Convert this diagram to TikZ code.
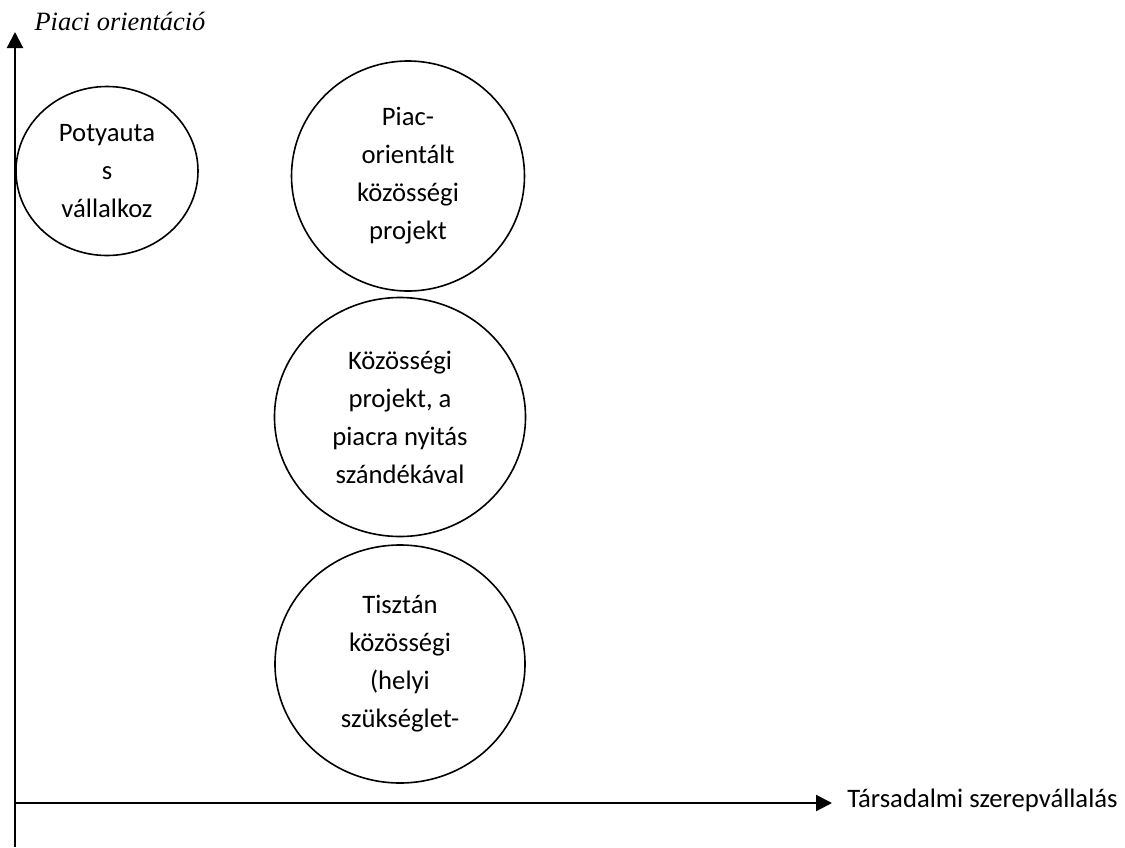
\documentclass[tikz,border=0pt]{standalone}
\usepackage{fontspec}
\setmainfont{Carlito}
\newfontfamily\axisfont{Liberation Serif}
\usepackage{tikz}
\usetikzlibrary{arrows.meta,shapes.geometric,positioning}

\begin{document}
\begin{tikzpicture}[x=0.75pt,y=-0.75pt,
                    blob/.style={draw,ellipse,line width=1.2pt,inner sep=0pt,align=center,
                                 font=\fontsize{20}{28.5}\selectfont},
                    axis/.style={line width=1.6pt,-{Triangle[length=12pt,width=12pt]}}]
                    \useasboundingbox (0,0) rectangle (1125,847);
                    \coordinate (origin) at (15,803);
                    \coordinate (ybot) at (15,847);
                    \coordinate (ytop) at (15,32);
                    \coordinate (xend) at (832,803);
                    \draw[axis] (ybot) -- (ytop);
                    \draw[axis] (origin) -- (xend);
                    \node[anchor=base,inner sep=0pt,font=\axisfont\itshape\fontsize{19.8}{22}\selectfont] (ylabel) at (120,30) {Piaci orientáció};
                    \node[anchor=base west,inner sep=0pt,font=\fontsize{20}{22}\selectfont] (xlabel) at (847,807) {Társadalmi szerepvállalás};
                    \node[blob,minimum width=136.5pt,minimum height=126.75pt] (potya) at (107,171)
                            {Potyauta\\s\\vállalkoz};
                    \node[blob,minimum width=174.75pt,minimum height=172.5pt] (piacor) at (408,176)
                            {Piac-\\orientált\\közösségi\\projekt};
                    \node[blob,minimum width=188.25pt,minimum height=179.25pt] (nyitas) at (400,417)
                            {Közösségi\\projekt, a\\piacra nyitás\\szándékával};
                    \node[blob,minimum width=187.5pt,minimum height=178.5pt] (tiszta) at (400,664)
                            {Tisztán\\közösségi\\(helyi\\szükséglet-};
\end{tikzpicture}
\end{document}
